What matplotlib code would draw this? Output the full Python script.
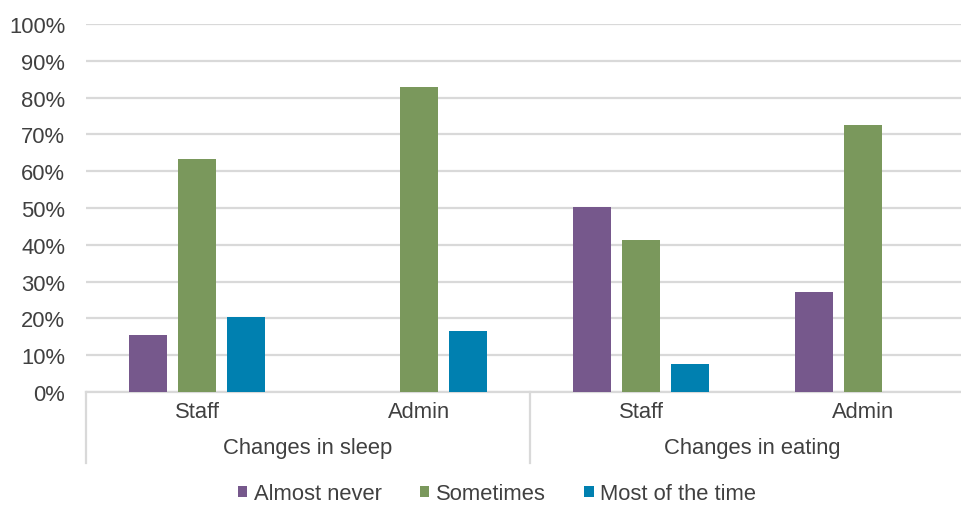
import numpy as np
import matplotlib.pyplot as plt
from matplotlib.lines import Line2D
from matplotlib.patches import Patch
from matplotlib.ticker import PercentFormatter

# Data
groups = ['Changes in sleep', 'Changes in eating']
roles = ['Staff', 'Admin', 'Staff', 'Admin']
series = ['Almost never', 'Sometimes', 'Most of the time']
almost_never = [15.6, 0.0, 50.2, 27.1]
sometimes = [63.3, 82.9, 41.2, 72.5]
most_of_time = [20.4, 16.6, 7.6, 0.0]

colors = ['#76588c', '#7a985c', '#0080b0']
text_color = '#404040'
grid_color = '#d9d9d9'

plt.rcParams['font.family'] = ['Liberation Sans', 'DejaVu Sans']
plt.rcParams['font.size'] = 15.8

fig = plt.figure(figsize=(9.61, 5.06), dpi=100)
# axes runs past the right edge, as in the (cropped) reference
ax = fig.add_axes([86 / 961, 113 / 506, 888 / 961, 368 / 506])

x = np.arange(len(roles))
width = 0.171
pitch = 0.2207
for i, (vals, col) in enumerate(zip([almost_never, sometimes, most_of_time], colors)):
    ax.bar(x + (i - 1) * pitch, np.array(vals) / 100, width, color=col, zorder=3)

ax.set_xlim(-0.5, len(roles) - 0.5)
ax.set_ylim(0, 1)
ax.set_yticks(np.arange(0, 1.01, 0.1))
ax.yaxis.set_major_formatter(PercentFormatter(1.0, decimals=0))
ax.tick_params(axis='y', length=0, pad=15, colors=text_color, labelsize=15.8)
ax.set_xticks([])
ax.grid(axis='y', color=grid_color, linewidth=1.6, zorder=0)

for side in ['top', 'right', 'left']:
    ax.spines[side].set_visible(False)
ax.spines['bottom'].set_color(grid_color)
ax.spines['bottom'].set_linewidth(1.6)

# two-level category labels
trans = ax.get_xaxis_transform()
for xi, r in zip(x, roles):
    ax.text(xi, -0.054, r, transform=trans, ha='center', va='center', color=text_color)
for gi, g in enumerate(groups):
    ax.text(gi * 2 + 0.5, -0.152, g, transform=trans, ha='center', va='center', color=text_color)
for xb in [-0.5, 1.5, 3.5]:
    ax.add_line(Line2D([xb, xb], [0, -0.193], transform=trans, color=grid_color,
                       linewidth=1.6, clip_on=False))

handles = [Patch(facecolor=c, edgecolor='none') for c in colors]
fig.legend(handles, series, loc='center', bbox_to_anchor=(0.517, 0.022), ncol=3,
           frameon=False, handlelength=0.45, handleheight=0.45, handletextpad=0.3,
           columnspacing=1.72, labelcolor=text_color, fontsize=15.8)

fig.savefig('out.png', dpi=100)
